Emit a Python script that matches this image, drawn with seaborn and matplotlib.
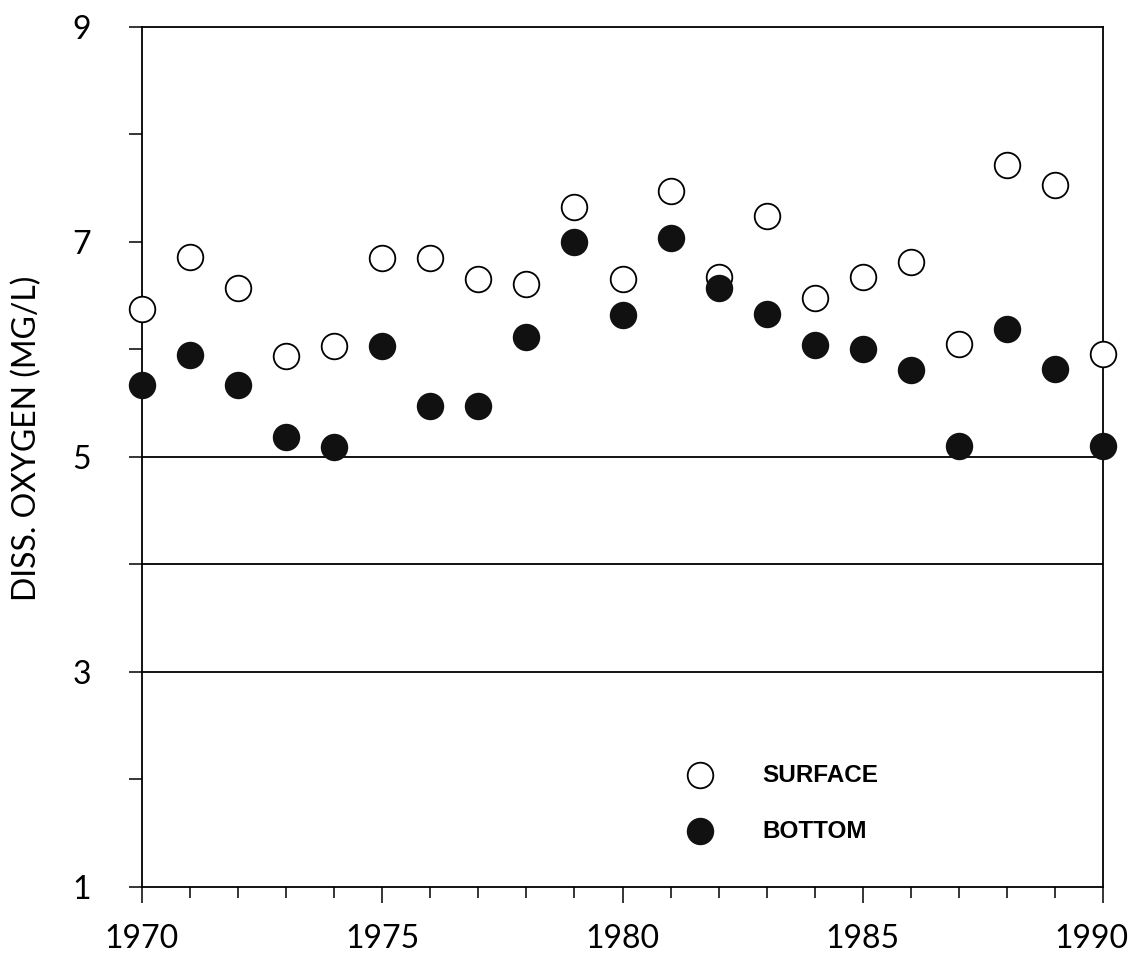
import numpy as np
import pandas as pd
import matplotlib
matplotlib.use('Agg')
import matplotlib.pyplot as plt
import matplotlib.transforms as mtransforms
import seaborn as sns

# Data
years = list(range(1970, 1991))
surface = [6.38, 6.86, 6.57, 5.94, 6.03, 6.85, 6.85, 6.66, 6.61, 7.33, 6.66,
           7.47, 6.67, 7.24, 6.48, 6.67, 6.81, 6.05, 7.72, 7.53, 5.96]
bottom = [5.67, 5.95, 5.67, 5.19, 5.09, 6.03, 5.47, 5.47, 6.12, 7.00, 6.32,
          7.04, 6.57, 6.33, 6.04, 6.00, 5.81, 5.10, 6.19, 5.82, 5.10]
ref_lines = [5, 4, 3]
ytick_vals = list(range(1, 10))
ytick_labels = ['1', '', '3', '', '5', '', '7', '', '9']

df = pd.DataFrame({'Year': years, 'Surface': surface, 'Bottom': bottom})

sns.set_style('ticks')
plt.rcParams['font.family'] = ['Lato', 'DejaVu Sans']
plt.rcParams['text.color'] = 'black'
plt.rcParams['xtick.color'] = 'black'
plt.rcParams['ytick.color'] = 'black'
plt.rcParams['axes.labelcolor'] = 'black'

fig = plt.figure(figsize=(11.35, 9.57), dpi=100)
ax = fig.add_axes([0.125, 0.0732, 0.847, 0.8986])

# reference lines
for v in ref_lines:
    ax.axhline(v, color='black', lw=1.3, zorder=1)

sns.scatterplot(data=df, x='Year', y='Surface', ax=ax, s=340,
                facecolor='white', edgecolor='black', linewidth=1.3,
                zorder=3, clip_on=False, label='SURFACE')
sns.scatterplot(data=df, x='Year', y='Bottom', ax=ax, s=340,
                facecolor='#111111', edgecolor='#111111', linewidth=1.3,
                zorder=4, clip_on=False, label='BOTTOM')

ax.set_xlim(1970, 1990)
ax.set_ylim(1, 9)
ax.set_xticks(range(1970, 1991, 5))
ax.set_xticks(years, minor=True)
ax.set_yticks(ytick_vals)
ax.set_yticklabels(ytick_labels)

for sp in ax.spines.values():
    sp.set_visible(True)
    sp.set_linewidth(1.3)
    sp.set_color('black')

ax.tick_params(axis='x', which='major', direction='out', length=11.5, width=1.1,
               pad=15, labelsize=23, labelcolor='black')
ax.tick_params(axis='x', which='minor', direction='out', length=8, width=1.1)
ax.tick_params(axis='y', which='major', direction='out', length=9.5, width=1.1,
               pad=27, labelsize=23, labelcolor='black')

# last year label sits a little left of its tick in the original
xlabels = ax.get_xticklabels()
shift = mtransforms.ScaledTranslation(-12 / 100, 0, fig.dpi_scale_trans)
xlabels[-1].set_transform(xlabels[-1].get_transform() + shift)

ax.set_xlabel('')
ax.set_ylabel('DISS. OXYGEN (MG/L)', fontsize=23, color='black')
ax.yaxis.set_label_coords(-0.104, 0.522)

leg = ax.legend(loc='center', bbox_to_anchor=(0.667, 0.0975), frameon=False,
                prop={'family': ['Liberation Sans', 'DejaVu Sans'],
                      'weight': 'bold', 'size': 17.5},
                handlelength=1.0, handletextpad=2.1, labelspacing=1.35)
for t in leg.get_texts():
    t.set_color('black')

fig.savefig('out.png', dpi=100)
